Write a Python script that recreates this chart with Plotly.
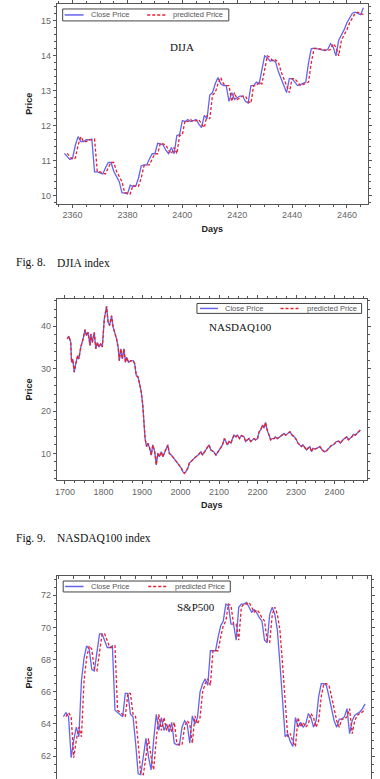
import plotly.graph_objects as go

W, H = 380, 779

# ---------------- data ----------------
djia_days = list(range(2357, 2467))
djia_close = [11.21, 11.12, 11.04, 11.08, 11.45, 11.69, 11.55, 11.55, 11.60, 11.60,
              11.62, 10.68, 10.68, 10.65, 10.62, 10.80, 10.95, 10.95, 10.70, 10.55,
              10.40, 10.08, 10.08, 10.05, 10.30, 10.27, 10.27, 10.50, 10.85, 10.88,
              10.88, 11.05, 11.20, 11.20, 11.50, 11.48, 11.45, 11.30, 11.20, 11.38,
              11.20, 11.72, 11.75, 12.15, 12.12, 12.18, 12.12, 12.15, 12.18, 12.05,
              11.95, 12.30, 12.20, 12.88, 12.95, 13.20, 13.38, 13.20, 13.15, 13.15,
              12.70, 12.95, 12.75, 12.80, 12.85, 12.85, 12.70, 12.65, 13.15, 13.15,
              13.25, 13.20, 13.60, 14.00, 13.95, 13.85, 13.88, 13.82, 13.55, 13.35,
              13.10, 12.95, 13.35, 13.35, 13.25, 13.15, 13.18, 13.22, 13.25, 13.80,
              14.20, 14.22, 14.20, 14.18, 14.15, 14.15, 14.18, 14.35, 14.25, 14.00,
              14.45, 14.60, 14.75, 14.95, 15.10, 15.22, 15.25, 15.22, 15.18, 15.38]
djia_pred_days = list(range(2358, 2467))
djia_pred = [11.21, 11.12, 11.04, 11.08, 11.45, 11.69, 11.55, 11.55, 11.60, 11.60,
             11.62, 10.68, 10.68, 10.65, 10.62, 10.80, 10.95, 10.95, 10.70, 10.55,
             10.40, 10.08, 10.08, 10.05, 10.30, 10.27, 10.27, 10.50, 10.85, 10.88,
             10.88, 11.05, 11.20, 11.20, 11.50, 11.48, 11.45, 11.30, 11.20, 11.38,
             11.20, 11.72, 11.75, 12.15, 12.12, 12.18, 12.12, 12.15, 12.18, 12.05,
             11.95, 12.30, 12.20, 12.88, 12.95, 13.20, 13.38, 13.20, 13.15, 13.15,
             12.70, 12.95, 12.75, 12.80, 12.85, 12.85, 12.70, 12.65, 13.15, 13.15,
             13.25, 13.20, 13.60, 14.00, 13.95, 13.85, 13.88, 13.82, 13.55, 13.35,
             13.10, 12.95, 13.35, 13.35, 13.25, 13.15, 13.18, 13.22, 13.25, 13.80,
             14.20, 14.22, 14.20, 14.18, 14.15, 14.15, 14.18, 14.35, 14.25, 14.00,
             14.45, 14.60, 14.75, 14.95, 15.10, 15.22, 15.25, 15.22, 15.18]

nasdaq_days = [1706, 1710, 1715, 1717, 1720, 1724, 1728, 1733, 1736, 1741, 1747, 1752, 1756, 1760,
               1765, 1767, 1771, 1776, 1780, 1784, 1788, 1793, 1797, 1802, 1808, 1812, 1816, 1821,
               1825, 1829, 1834, 1838, 1841, 1845, 1849, 1853, 1857, 1860, 1865, 1872, 1877, 1881,
               1885, 1890, 1894, 1898, 1902, 1905, 1908, 1912, 1915, 1920, 1924, 1928, 1933, 1937,
               1941, 1945, 1950, 1954, 1958, 1963, 1967, 1971, 1976, 1983, 1989, 1995, 2002, 2006,
               2010, 2014, 2019, 2023, 2027, 2034, 2040, 2046, 2053, 2057, 2063, 2070, 2074, 2079,
               2086, 2092, 2098, 2105, 2109, 2114, 2118, 2122, 2126, 2131, 2135, 2139, 2144, 2148,
               2153, 2158, 2165, 2169, 2174, 2178, 2182, 2187, 2191, 2195, 2200, 2204, 2208, 2213,
               2217, 2221, 2225, 2230, 2234, 2238, 2243, 2247, 2251, 2258, 2264, 2269, 2273, 2279,
               2284, 2290, 2296, 2301, 2305, 2310, 2314, 2318, 2323, 2327, 2331, 2336, 2340, 2344,
               2350, 2355, 2362, 2368, 2374, 2379, 2385, 2391, 2398, 2405, 2411, 2415, 2422, 2428,
               2432, 2436, 2441, 2445, 2449, 2454, 2458, 2462, 2467]
nasdaq_close = [37.0, 37.7, 36.2, 31.5, 32.3, 29.2, 31.2, 33.1, 32.3, 35.1, 37.0, 39.2, 37.8, 38.6,
                35.5, 38.2, 36.2, 38.6, 34.7, 36.2, 35.1, 35.9, 35.1, 41.7, 44.7, 41.0, 40.2, 42.5,
                39.8, 38.6, 37.0, 35.1, 31.9, 34.7, 32.3, 34.7, 31.5, 32.7, 31.5, 31.9, 31.9, 31.2,
                28.4, 28.0, 26.1, 24.5, 21.4, 17.5, 13.5, 11.6, 12.4, 11.2, 9.6, 12.0, 10.4, 7.3,
                10.0, 9.2, 10.4, 9.2, 10.0, 10.8, 12.0, 10.0, 9.6, 8.8, 8.1, 7.3, 6.5, 5.7,
                5.3, 5.7, 6.5, 7.7, 8.1, 8.8, 9.2, 9.6, 10.4, 9.6, 10.4, 11.2, 12.0, 10.8,
                10.4, 9.6, 10.4, 11.2, 12.0, 13.5, 12.8, 12.0, 12.8, 12.4, 13.5, 14.3, 13.9, 14.3,
                13.5, 14.2, 13.9, 12.8, 13.2, 13.5, 12.8, 13.2, 13.5, 13.2, 13.5, 15.1, 15.5, 16.7,
                16.0, 17.3, 15.5, 14.3, 13.2, 13.5, 13.5, 13.9, 13.5, 13.9, 14.3, 14.7, 14.3, 14.7,
                15.1, 14.3, 13.9, 13.2, 12.4, 12.0, 11.6, 12.0, 11.3, 10.8, 11.2, 11.6, 10.4, 11.2,
                11.0, 11.3, 11.6, 10.8, 10.4, 10.6, 11.2, 11.8, 12.1, 12.8, 12.9, 12.4, 13.2, 13.5,
                13.9, 13.2, 13.5, 13.9, 14.5, 14.3, 14.7, 15.1, 15.5]
nasdaq_pred = [37.0, 37.7, 36.2, 31.5, 32.3, 29.2, 31.2, 33.1, 32.3, 35.1, 37.0, 39.2, 37.8, 38.6,
               35.5, 38.2, 36.2, 38.6, 34.7, 36.2, 35.1, 35.9, 35.1, 41.7, 44.7, 41.0, 40.2, 42.5,
               39.8, 38.6, 37.0, 35.1, 31.9, 34.7, 32.3, 34.7, 31.5, 32.7, 31.5, 31.9, 31.9, 31.2,
               28.4, 28.0, 26.1, 24.5, 21.4, 17.5, 13.5, 11.6, 12.4, 11.2, 9.6, 12.0, 10.4, 7.3,
               10.0, 9.2, 10.4, 9.2, 10.0, 10.8, 12.0, 10.0, 9.6, 8.8, 8.1, 7.3, 6.5, 5.7,
               5.3, 5.7, 6.5, 7.7, 8.1, 8.8, 9.2, 9.6, 10.4, 9.6, 10.4, 11.2, 12.0, 10.8,
               10.4, 9.6, 10.4, 11.2, 12.0, 13.5, 12.8, 12.0, 12.8, 12.4, 13.5, 14.3, 13.9, 14.3,
               13.5, 14.2, 13.9, 12.8, 13.2, 13.5, 12.8, 13.2, 13.5, 13.2, 13.5, 15.1, 15.5, 16.7,
               16.0, 17.3, 15.5, 14.3, 13.2, 13.5, 13.5, 13.9, 13.5, 13.9, 14.3, 14.7, 14.3, 14.7,
               15.1, 14.3, 13.9, 13.2, 12.4, 12.0, 11.6, 12.0, 11.3, 10.8, 11.2, 11.6, 10.4, 11.2,
               11.0, 11.3, 11.6, 10.8, 10.4, 10.6, 11.2, 11.8, 12.1, 12.8, 12.9, 12.4, 13.2, 13.5,
               13.9, 13.2, 13.5, 13.9, 14.5, 14.3, 14.7, 15.1, 15.5]

sp_days = list(range(2357, 2475))
sp_close = [64.45, 64.70, 64.45, 61.90, 63.00, 63.80, 63.20, 66.70, 68.10, 68.85,
            68.65, 67.40, 67.30, 68.55, 69.60, 69.60, 69.20, 68.75, 68.75, 68.85,
            64.85, 64.70, 64.60, 64.45, 65.90, 65.90, 64.60, 64.45, 62.80, 60.90,
            60.85, 62.00, 63.10, 61.95, 61.15, 63.00, 64.60, 63.60, 64.40, 63.60,
            64.00, 63.50, 64.10, 62.80, 62.70, 62.70, 63.80, 64.20, 64.00, 62.80,
            64.50, 64.00, 64.40, 66.00, 66.50, 66.80, 66.40, 68.55, 68.55, 68.55,
            69.40, 70.10, 70.40, 71.45, 71.35, 70.20, 70.20, 69.20, 71.25, 71.45,
            71.45, 71.55, 71.25, 70.95, 71.10, 70.90, 70.60, 70.40, 69.20, 69.05,
            70.80, 71.25, 70.80, 69.80, 67.70, 65.25, 63.20, 63.40, 62.90, 62.60,
            64.40, 63.80, 64.10, 63.80, 64.00, 64.65, 64.40, 63.80, 64.20, 65.70,
            66.50, 66.50, 66.40, 65.70, 64.85, 64.20, 63.80, 64.30, 64.30, 64.45,
            64.95, 63.40, 64.20, 64.55, 64.65, 64.75, 64.95, 65.25]
sp_pred_days = list(range(2358, 2475))
sp_pred = [64.45, 64.70, 64.45, 61.90, 63.00, 63.80, 63.20, 66.70, 68.10, 68.85,
           68.65, 67.40, 67.30, 68.55, 69.60, 69.60, 69.20, 68.75, 68.75, 68.85,
           64.85, 64.70, 64.60, 64.45, 65.90, 65.90, 64.60, 64.45, 62.80, 60.90,
           60.85, 62.00, 63.10, 61.95, 61.15, 63.00, 64.60, 63.60, 64.40, 63.60,
           64.00, 63.50, 64.10, 62.80, 62.70, 62.70, 63.80, 64.20, 64.00, 62.80,
           64.50, 64.00, 64.40, 66.00, 66.50, 66.80, 66.40, 68.55, 68.55, 68.55,
           69.40, 70.10, 70.40, 71.45, 71.35, 70.20, 70.20, 69.20, 71.25, 71.45,
           71.45, 71.55, 71.25, 70.95, 71.10, 70.90, 70.60, 70.40, 69.20, 69.05,
           70.80, 71.25, 70.80, 69.80, 67.70, 65.25, 63.20, 63.40, 62.90, 62.60,
           64.40, 63.80, 64.10, 63.80, 64.00, 64.65, 64.40, 63.80, 64.20, 65.70,
           66.50, 66.50, 66.40, 65.70, 64.85, 64.20, 63.80, 64.30, 64.30, 64.45,
           64.95, 63.40, 64.20, 64.55, 64.65, 64.75, 64.95]

series_names = ["Close Price", "predicted Price"]
panel_titles = ["DIJA", "NASDAQ100", "S&P500"]
captions = [("Fig. 8.", "DJIA index"), ("Fig. 9.", "NASDAQ100 index")]

# ---------------- styling ----------------
BLUE = "#6464f0"
RED = "#e8212b"
DASH = "3px,2px"
FRAME = "#555555"
TICKC = "#666666"
SANS = "Liberation Sans, Arial, sans-serif"
SERIF = "Liberation Serif, Times New Roman, serif"


def py(px):
    return 1 - px / H


def px_x(px):
    return px / W


fig = go.Figure()

panels = [
    (djia_days, djia_close, djia_pred_days, djia_pred, "x", "y"),
    (nasdaq_days, nasdaq_close, nasdaq_days, nasdaq_pred, "x2", "y2"),
    (sp_days, sp_close, sp_pred_days, sp_pred, "x3", "y3"),
]
for dx, dc, pdx, pdv, xa, ya in panels:
    fig.add_trace(go.Scatter(x=dx, y=dc, mode="lines", name=series_names[0],
                             line=dict(color=BLUE, width=1.3), xaxis=xa, yaxis=ya))
    fig.add_trace(go.Scatter(x=pdx, y=pdv, mode="lines", name=series_names[1],
                             line=dict(color=RED, width=1.3, dash=DASH), xaxis=xa, yaxis=ya))

common = dict(showline=True, linecolor=FRAME, linewidth=1, showgrid=False, zeroline=False,
              ticks="outside", ticklen=3, tickcolor=FRAME, tickwidth=1,
              tickfont=dict(family=SANS, size=9, color=TICKC))
title_font = dict(family=SANS, size=9, color="#222222")

fig.update_layout(
    xaxis=dict(domain=[px_x(55), px_x(367.7)], range=[2354.2, 2467.6], anchor="y",
               tickmode="linear", tick0=2360, dtick=20, mirror="allticks",
               minor=dict(dtick=5, ticks="outside", ticklen=2, tickcolor=FRAME),
               title=dict(text="<b>Days</b>", font=title_font, standoff=6), **common),
    yaxis=dict(domain=[py(200.7), 1], range=[9.772, 15.484], anchor="x",
               tickmode="linear", tick0=10, dtick=1, mirror="allticks",
               minor=dict(dtick=0.2, ticks="outside", ticklen=2, tickcolor=FRAME),
               title=dict(text="<b>Price</b>", font=title_font, standoff=6), **common),
    xaxis2=dict(domain=[px_x(55), px_x(366.7)], range=[1678.5, 2483.7], anchor="y2",
                tickmode="linear", tick0=1700, dtick=100, mirror="allticks",
                minor=dict(dtick=25, ticks="outside", ticklen=2, tickcolor=FRAME),
                title=dict(text="<b>Days</b>", font=title_font, standoff=6), **common),
    yaxis2=dict(domain=[py(478.3), py(296.7)], range=[3.75, 46.41], anchor="x2",
                tickmode="linear", tick0=10, dtick=10, mirror="allticks",
                minor=dict(dtick=2, ticks="outside", ticklen=2, tickcolor=FRAME),
                title=dict(text="<b>Price</b>", font=title_font, standoff=6), **common),
    xaxis3=dict(domain=[px_x(55), px_x(370.7)], range=[2354.4, 2476.2], anchor="y3",
                side="top", showticklabels=False, tickmode="linear", tick0=2361, dtick=6,
                showline=True, linecolor=FRAME, linewidth=1, showgrid=False, zeroline=False,
                ticks="inside", ticklen=3, tickcolor=FRAME),
    yaxis3=dict(domain=[0, py(575)], range=[60.58, 73.19], anchor="x3",
                tickmode="linear", tick0=62, dtick=2, mirror="allticks",
                minor=dict(dtick=0.5, ticks="outside", ticklen=2, tickcolor=FRAME),
                title=dict(text="<b>Price</b>", font=title_font, standoff=6), **common),
)

# ---------------- compact legend boxes (one per panel) ----------------
shapes = []
annotations = []
leg_font = dict(family=SANS, size=7.5, color="#555555")
# (box x0, x1, y0, y1, blue sample x0, x1, text x, red sample x0, x1, text x)
legend_boxes = [
    (61, 228, 5, 17, 63, 82, 87, 146, 165, 170),
    (196, 361.5, 301, 311, 199, 217, 222, 280, 300, 305),
    (61.5, 229.5, 580, 591, 63.5, 82, 87, 147, 167, 172),
]
for bx0, bx1, by0, by1, b0, b1, bt, r0, r1, rt in legend_boxes:
    yc = (by0 + by1) / 2
    shapes.append(dict(type="rect", xref="paper", yref="paper",
                       x0=px_x(bx0), x1=px_x(bx1), y0=py(by1), y1=py(by0),
                       line=dict(color="#444444", width=1), fillcolor="white", layer="above"))
    shapes.append(dict(type="line", xref="paper", yref="paper",
                       x0=px_x(b0), x1=px_x(b1), y0=py(yc), y1=py(yc),
                       line=dict(color=BLUE, width=1.5), layer="above"))
    shapes.append(dict(type="line", xref="paper", yref="paper",
                       x0=px_x(r0), x1=px_x(r1), y0=py(yc), y1=py(yc),
                       line=dict(color=RED, width=1.5, dash=DASH), layer="above"))
    annotations.append(dict(text=series_names[0], x=px_x(bt), y=py(yc), xref="paper", yref="paper",
                            xanchor="left", yanchor="middle", showarrow=False, font=leg_font))
    annotations.append(dict(text=series_names[1], x=px_x(rt), y=py(yc), xref="paper", yref="paper",
                            xanchor="left", yanchor="middle", showarrow=False, font=leg_font))

for (text, cx, cy) in [(panel_titles[0], 181, 43), (panel_titles[1], 240, 325), (panel_titles[2], 195, 606)]:
    annotations.append(dict(text=text, x=px_x(cx), y=py(cy), xref="paper", yref="paper",
                            xanchor="center", yanchor="middle", showarrow=False,
                            font=dict(family=SERIF, size=11, color="#111111")))
for (fig_lbl, desc), cy in zip(captions, [260, 537]):
    annotations.append(dict(text=fig_lbl, x=px_x(12), y=py(cy), xref="paper", yref="paper",
                            xanchor="left", yanchor="middle", showarrow=False,
                            font=dict(family=SERIF, size=11.5, color="#111111")))
    annotations.append(dict(text=desc, x=px_x(53), y=py(cy), xref="paper", yref="paper",
                            xanchor="left", yanchor="middle", showarrow=False,
                            font=dict(family=SERIF, size=11.5, color="#111111")))

fig.update_layout(
    width=W, height=H, autosize=False,
    margin=dict(l=0, r=0, t=0, b=0, pad=0),
    paper_bgcolor="white", plot_bgcolor="white",
    annotations=annotations, shapes=shapes,
    showlegend=False,
)

fig.write_html("out.html", config={"displayModeBar": False})
